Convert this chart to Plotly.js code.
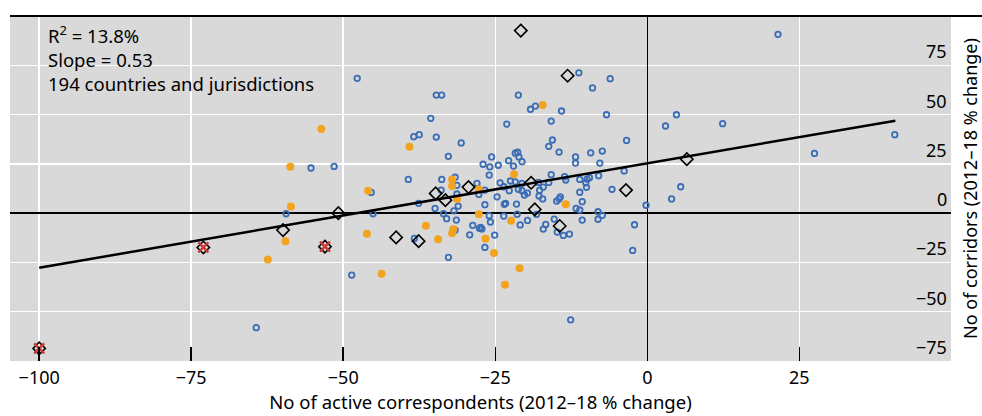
<!DOCTYPE html>
<html>
<head>
<meta charset="utf-8">
<script src="https://cdn.plot.ly/plotly-3.0.1.min.js"></script>
<style>html,body{margin:0;padding:0;background:#fff;}#chart{width:982px;height:416px;}</style>
</head>
<body>
<div id="chart"></div>
<script>
// Blue open circles
const blueX = [21.5,-47.7,-64.3,-12.6,-48.6,12.4,4.8,3.0,40.7,27.5,-0.2,5.5,4.0,-2.1,-2.4,-55.3,-51.5,-45.4,-59.4,-45.1,
  -11.25,-6.1,-9.0,-34.7,-33.8,-21.2,-19.2,-18.4,-14.1,-6.7,-35.6,-23.1,-15.8,-38.4,-37.5,-34.7,-30.6,-32.7,-25.6,-27.0,
  -25.9,-24.5,-22.8,-22.0,-21.7,-21.3,-21.1,-20.6,-26.0,-39.3,-33.8,-31.6,-22.5,-15.6,-16.2,-14.5,-3.4,-11.8,-11.8,-9.3,
  -7.4,-7.8,-3.8,-15.8,-13.6,-31.3,-13.4,-11.1,-9.9,-9.5,-8.0,-10.1,-10.0,-11.1,-10.7,-5.8,-20.6,-10.7,-8.1,-7.4,
  -8.1,-11.7,-11.1,-12.8,-13.8,-14.8,-15.3,-16.7,-17.1,-19.7,-20.9,-21.4,-21.5,-23.5,-23.3,-23.6,-24.7,-26.7,-27.7,-26.0,
  -25.8,-27.6,-27.2,-27.4,-28.7,-29.2,-25.1,-26.7,-32.7,-31.6,-31.4,-33.0,-33.5,-31.8,-31.1,-34.9,-37.6,-38.3,-33.9,-28.0,
  -24.2,-31.3,-26.7,-17.7,-17.1,-16.2,-17.9,-17.2,-18.2,-14.9,-14.5,-14.3,-21.2,-20.6,-20.2,-19.7,-17.8,-23.6,-22.7,-21.7];
const blueY = [90.7,68.4,-58.1,-54.1,-31.4,45.4,49.9,44.2,39.8,30.3,4.0,13.4,7.2,-5.9,-18.9,22.9,23.7,10.5,-0.3,-0.3,
  71.2,68.2,63.5,59.9,59.9,59.9,52.7,54.3,51.8,49.9,48.1,45.2,46.7,38.8,39.8,38.6,35.6,28.8,28.5,24.8,
  23.5,24.3,26.6,23.9,30.4,30.9,28.5,26.1,19.3,17.1,17.1,18.2,16.3,37.1,33.9,31.0,36.9,28.5,25.4,30.6,
  31.5,25.4,21.4,19.5,18.5,14.1,16.8,17.1,17.3,18.0,19.0,15.4,13.1,10.6,5.8,12.1,15.1,-3.5,0.7,-1.1,
  -3.1,2.4,1.6,-10.6,-11.3,-9.6,-3.0,-5.7,-8.1,-3.7,-6.0,-0.5,4.6,4.5,5.0,-1.5,8.3,4.3,9.5,-1.3,
  -4.5,-7.7,-8.0,-7.2,-6.2,-11.0,-11.1,-17.4,-22.4,-8.6,-3.5,-2.8,-0.3,1.2,3.6,2.4,5.0,-12.8,11.7,15.1,
  15.4,9.7,11.7,11.6,13.2,15.6,15.6,7.2,-0.6,6.1,7.2,8.3,12.1,11.4,9.2,10.2,8.7,13.4,11.4,15.9];

// Orange filled circles
const orangeX = [-53.6,-58.7,-45.9,-58.6,-59.5,-46.1,-62.4,-43.7,-39.1,-17.2,-32.1,-32.1,-21.9,-31.3,-27.7,-27.7,-22.4,-13.4,-36.4,-34.4,-32.1,-31.9,-26.6,-25.2,-21.0,-23.4];
const orangeY = [42.7,23.5,11.4,3.4,-14.2,-10.4,-23.5,-30.7,33.7,54.8,17.1,13.8,19.7,7.2,12.1,-0.6,-3.9,4.5,-6.4,-13.3,-10.2,-8.2,-13.0,-20.2,-27.9,-36.3];

// Black open diamonds
const diamondX = [-20.8,-13.1,-50.8,-59.9,-41.3,-3.5,6.5,-19.1,-18.5,-14.4,-29.4,-33.2,-34.8,-37.6];
const diamondY = [92.6,69.7,0.0,-8.6,-12.3,11.7,27.4,15.4,1.9,-6.5,13.2,6.6,10.0,-14.2];

// Crossed diamonds
const crossX = [-73.0,-53.0,-100.0];
const crossY = [-17.4,-17.0,-68.6];

// Fitted line end points
const fitX = [-100, 40.8];
const fitY = [-27.7, 46.9];

const xTicks = [-100,-75,-50,-25,0,25];
const yTicks = [-75,-50,-25,0,25,50,75];
const yTickLabels = ['−75','−50','−25','0','25','50','75'];

const annotationLines = ['R<sup>2</sup> = 13.8%','Slope = 0.53','194 countries and jurisdictions'];

const FONT = 'Noto Sans, Open Sans, sans-serif';

const traces = [
  {x: blueX, y: blueY, type: 'scatter', mode: 'markers', hoverinfo: 'skip',
   marker: {symbol: 'circle-open', size: 5.5, color: '#3a6db5', line: {width: 1.8, color: '#3a6db5'}}},
  {x: orangeX, y: orangeY, type: 'scatter', mode: 'markers', hoverinfo: 'skip',
   marker: {symbol: 'circle', size: 8, color: '#f2a31f', line: {width: 0}}},
  {x: fitX, y: fitY, type: 'scatter', mode: 'lines', hoverinfo: 'skip',
   line: {color: '#000', width: 2.5}},
  {x: diamondX, y: diamondY, type: 'scatter', mode: 'markers', hoverinfo: 'skip',
   marker: {symbol: 'diamond-open', size: 9.5, color: '#000', line: {width: 1.6, color: '#000'}}},
  {x: crossX, y: crossY, type: 'scatter', mode: 'markers', hoverinfo: 'skip',
   marker: {symbol: 'diamond-open', size: 9.5, color: '#000', line: {width: 1.6, color: '#000'}}},
  {x: crossX, y: crossY, type: 'scatter', mode: 'markers', hoverinfo: 'skip',
   marker: {symbol: 'x-thin-open', size: 10, color: '#c83a32', line: {width: 2.4, color: '#c83a32'}}}
];

const annotations = [
  {xref: 'paper', yref: 'paper', x: 0.038, y: 0.99, xanchor: 'left', yanchor: 'top',
   align: 'left', showarrow: false, text: annotationLines.join('<br>'),
   font: {family: FONT, size: 18.5, color: '#000'}}
];
yTicks.forEach((v, i) => {
  annotations.push({xref: 'paper', yref: 'y', x: 0.998, y: v, xanchor: 'right', yanchor: 'bottom',
    showarrow: false, text: yTickLabels[i], font: {family: FONT, size: 18, color: '#000'}});
});

const layout = {
  width: 982, height: 416,
  margin: {l: 10, r: 31, t: 16, b: 55},
  paper_bgcolor: '#ffffff',
  plot_bgcolor: '#d9d9d9',
  showlegend: false,
  font: {family: FONT, size: 18, color: '#000'},
  xaxis: {
    range: [-104.8, 49.95],
    tickvals: xTicks,
    ticks: 'inside', ticklen: 14, tickwidth: 1.5, tickcolor: '#000',
    showgrid: true, gridcolor: '#ffffff', gridwidth: 1.5,
    zeroline: true, zerolinecolor: '#000', zerolinewidth: 1.5,
    showline: false,
    ticklabelstandoff: 4,
    tickfont: {family: FONT, size: 18, color: '#000'},
    title: {text: 'No of active correspondents (2012–18 % change)', font: {family: FONT, size: 18.5, color: '#000'}, standoff: 5}
  },
  yaxis: {
    range: [-75, 100],
    side: 'right',
    tickvals: yTicks,
    ticks: '',
    showticklabels: false,
    showgrid: true, gridcolor: '#ffffff', gridwidth: 1.5,
    zeroline: true, zerolinecolor: '#000', zerolinewidth: 1.5,
    showline: false,
    title: {text: 'No of corridors (2012–18 % change)', font: {family: FONT, size: 18, color: '#000'}, standoff: 13}
  },
  shapes: [
    {type: 'line', xref: 'paper', yref: 'paper', x0: 0, x1: 1.04, y0: 1, y1: 1, line: {color: '#000', width: 2}}
  ],
  annotations: annotations
};

Plotly.newPlot('chart', traces, layout, {displayModeBar: false, staticPlot: true});
</script>
</body>
</html>
